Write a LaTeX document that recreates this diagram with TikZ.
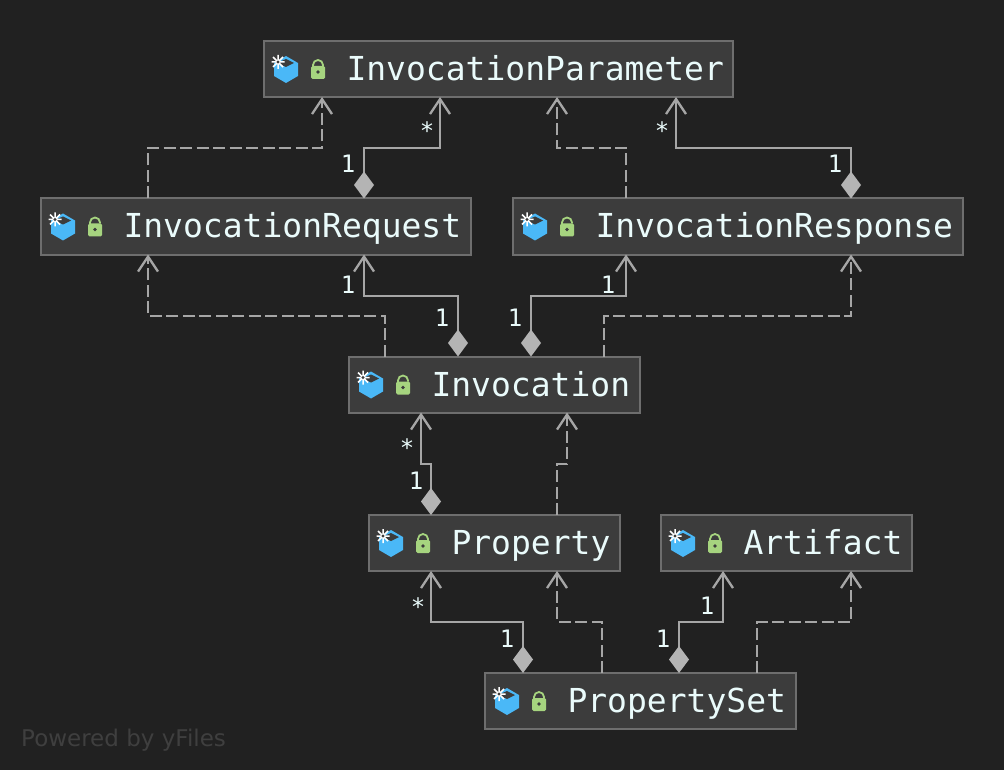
\documentclass[tikz,border=0pt]{standalone}
\usepackage{fontspec}
\setmainfont{DejaVu Sans}
\newfontfamily\monof{DejaVu Sans Mono}
\usetikzlibrary{arrows.meta}
\definecolor{bgc}{HTML}{212121}
\definecolor{boxfill}{HTML}{3C3C3C}
\definecolor{boxline}{HTML}{6E6E6E}
\definecolor{linec}{HTML}{A6A6A6}
\definecolor{diac}{HTML}{B4B4B4}
\definecolor{txtc}{HTML}{EAFBFB}
\definecolor{cube}{HTML}{4AB8F7}
\definecolor{lockc}{HTML}{A6D47F}
\definecolor{poweredc}{HTML}{3F3F3F}
\tikzset{
  cls/.style={draw=boxline,fill=boxfill,line width=2pt,anchor=west,minimum height=56pt,inner xsep=0pt,inner ysep=0pt,outer sep=0pt,
    text=txtc,font=\monof\fontsize{33}{33}\selectfont,text height=24pt,text depth=1pt},
  comp/.style={draw=linec,line width=2.3pt,{Diamond[length=27pt,width=20pt,color=diac,fill=diac]}-{Straight Barb[length=15pt,width=20pt,color=linec]}},
  dep/.style={draw=linec,line width=2.3pt,dash pattern=on 12pt off 4.5pt,-{Straight Barb[length=15pt,width=20pt,color=linec]}},
  mult/.style={anchor=base,text=txtc,font=\monof\fontsize{24}{24}\selectfont,inner sep=0pt},
  icons/.pic={
    \fill[cube] (10,-6) -- (22,-13) -- (34,-6) -- (34,7) -- (22,14) -- (10,7) -- cycle;
    \fill[boxfill] (13,-6) -- (22,-10) -- (30,-6) -- (22,-2) -- cycle;
    \draw[white,line width=1.5pt] (9,-12) -- (19,-2) (9,-2) -- (19,-12) (14,-14) -- (14,0) (7.5,-7) -- (20.5,-7);
    \fill[boxfill] (14,-7) circle (1.6pt);
    \draw[lockc,line width=1.8pt] (49,-2) -- (49,-4) arc[start angle=180,end angle=360,radius=5] -- (59,-3);
    \fill[lockc,rounded corners=1.5pt] (47,-3) rectangle (61,10);
    \fill[boxfill] (54,3) circle (1.8pt);
  }
}
\newcommand{\cnode}[4]{\node[cls] (#1) at (#2,#3) {\hspace*{82.5pt}#4\hspace*{9.5pt}};\pic at (#1.west) {icons};}
\newcommand{\uml}[6]{\draw[#1] (#3,0 |- #2.north) -- (#3,#4) -- (#6,#4) -- (#6,0 |- #5.south);}
\begin{document}
\begin{tikzpicture}[x=1pt,y=-1pt]
\useasboundingbox[fill=bgc] (0,0) rectangle (1004,770);
\cnode{Param}{264}{69}{InvocationParameter}
\cnode{Req}{41}{226.5}{InvocationRequest}
\cnode{Resp}{513}{226.5}{InvocationResponse}
\cnode{Inv}{349}{384.5}{Invocation}
\cnode{Prop}{369}{543}{Property}
\cnode{Art}{661}{543}{Artifact}
\cnode{PSet}{485}{701}{PropertySet}
\uml{dep}{Req}{148}{148}{Param}{322}
\uml{comp}{Req}{364}{148}{Param}{440}
\uml{dep}{Resp}{626}{148}{Param}{557}
\uml{comp}{Resp}{851}{148}{Param}{676}
\uml{dep}{Inv}{385}{316}{Req}{148}
\uml{comp}{Inv}{458}{296}{Req}{364}
\uml{comp}{Inv}{531}{296}{Resp}{626}
\uml{dep}{Inv}{604}{316}{Resp}{851}
\uml{comp}{Prop}{431}{464}{Inv}{421}
\uml{dep}{Prop}{557}{464}{Inv}{567}
\uml{comp}{PSet}{523}{622}{Prop}{431}
\uml{dep}{PSet}{602}{622}{Prop}{557}
\uml{comp}{PSet}{679}{622}{Art}{723}
\uml{dep}{PSet}{757}{622}{Art}{851}
\node[mult] (m1) at (348,173) {1};
\node[mult] (m2) at (427,140) {*};
\node[mult] (m3) at (835,173) {1};
\node[mult] (m4) at (662,140) {*};
\node[mult] (m5) at (348,293) {1};
\node[mult] (m6) at (442,326) {1};
\node[mult] (m7) at (515,326) {1};
\node[mult] (m8) at (608,293) {1};
\node[mult] (m9) at (407,456) {*};
\node[mult] (m10) at (416,489) {1};
\node[mult] (m11) at (418,615) {*};
\node[mult] (m12) at (507,647) {1};
\node[mult] (m13) at (663,647) {1};
\node[mult] (m14) at (707,614) {1};
\node[anchor=base west,inner sep=0pt,text=poweredc,font=\fontsize{23}{23}\selectfont] (pw) at (21,746) {Powered by yFiles};
\end{tikzpicture}
\end{document}
